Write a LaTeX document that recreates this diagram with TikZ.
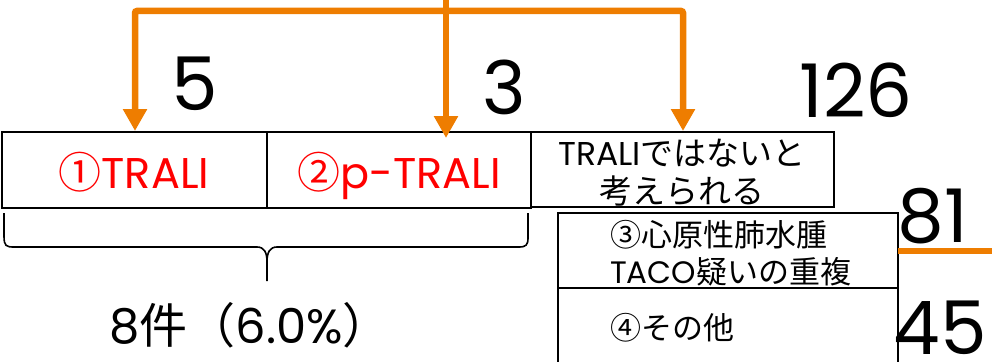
\documentclass[tikz,border=0pt]{standalone}
\usepackage{fontspec}
\setmainfont{Noto Sans CJK JP}
\newfontfamily\lat{Poppins}
\usetikzlibrary{arrows.meta}
\definecolor{org}{RGB}{238,125,0}
\definecolor{redtxt}{RGB}{255,0,0}
\begin{document}
\begin{tikzpicture}[x=1pt,y=-1pt,
  box/.style={draw,line width=2pt,inner sep=0pt},
  oline/.style={draw=org,line width=6.5pt},
  otip/.tip={Triangle[width=23pt,length=22pt]},
  bignum/.style={inner sep=0pt,anchor=base,text depth=0pt,font=\fontsize{74}{80}\selectfont\lat},
  redlab/.style={inner sep=0pt,anchor=base,text=redtxt,font=\fontsize{43}{48}\selectfont},
  midlab/.style={inner sep=0pt,anchor=base,align=center,font=\fontsize{33}{38}\selectfont},
  leftlab/.style={inner sep=0pt,anchor=base west,align=left,font=\fontsize{31}{37}\selectfont},
  bracestyle/.style={line width=1.6pt}]
\useasboundingbox (0,0) rectangle (992,361);
\clip (0,0) rectangle (992,361);

% boxes
\node[box,minimum width=265pt,minimum height=76pt] (b1) at (134.5,170) {};
\node[box,minimum width=264pt,minimum height=76pt] (b2) at (399,170) {};
\node[box,minimum width=303pt,minimum height=75pt] (b3) at (682.5,169.5) {};
\node[box,minimum width=340pt,minimum height=75pt] (b4) at (728,250) {};
\node[box,minimum width=340pt,minimum height=86pt] (b5) at (728,330.5) {};

% box texts (base anchor = baseline of the last line)
\node[redlab] (t1) at (134,188) {①{\lat TRALI}};
\node[redlab] (t2) at (399,188) {②{\lat p-TRALI}};
\node[midlab] (t3) at (682,203) {{\lat TRALI}ではないと\\考えられる};
\node[leftlab] (t4) at (610,283) {③心原性肺水腫\\{\lat TACO}疑いの重複};
\node[leftlab] (t5) at (610,339) {④その他};

% numbers
\node[bignum] (n5) at (195,110) {5};
\node[bignum] (n3) at (504,114) {3};
\node[bignum] (n126) at (856,117) {126};
\node[bignum] (n81) at (933,242) {81};
\node[bignum] (n45) at (940,354) {45};

% bottom label
\node[inner sep=0pt,anchor=base,font=\fontsize{48}{54}\selectfont] (tot) at (250,343) {{\lat 8}件（{\lat 6.0\%}）};

% orange connectors
\coordinate (top) at (446,0);
\coordinate (hl) at (135,11);
\coordinate (hr) at (683,11);
\draw[oline,-otip] (top) -- ([yshift=-7pt]top |- b2.north);
\draw[oline,otip-otip,rounded corners=2pt] (b1.north -| hl) -- (hl) -- (hr) -- (b3.north -| hr);
\coordinate (ul) at (898,251);
\coordinate (ur) at (992,251);
\draw[oline] (ul) -- (ur);

% brace
\draw[bracestyle] (4,213) -- (4,236) .. controls (4,246) and (6,247) .. (14,247)
  -- (257,247) .. controls (264,247) and (267,252) .. (267,262) -- (267,281)
  (267,262) .. controls (267,252) and (270,247) .. (277,247)
  -- (519,247) .. controls (526,247) and (528,245) .. (528,238) -- (528,213);
\end{tikzpicture}
\end{document}
